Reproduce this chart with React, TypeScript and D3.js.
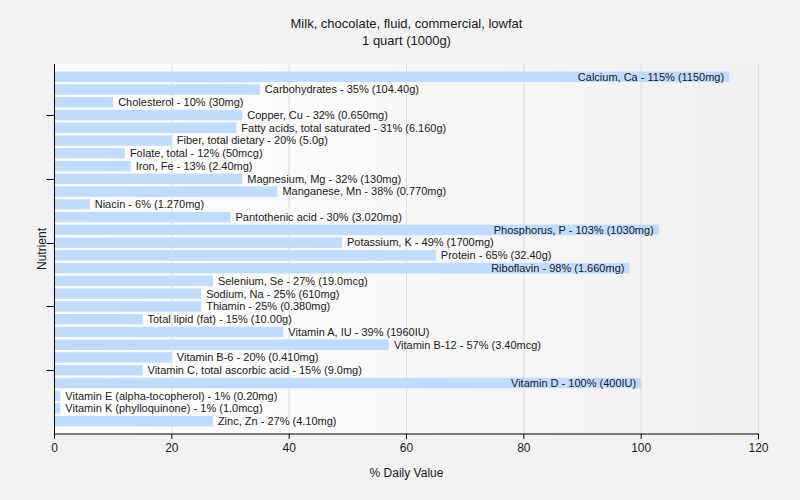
import React from "react";
import * as d3 from "d3";

const title1 = "Milk, chocolate, fluid, commercial, lowfat";
const title2 = "1 quart (1000g)";

const nutrients = [
  "Calcium, Ca", "Carbohydrates", "Cholesterol", "Copper, Cu", "Fatty acids, total saturated",
  "Fiber, total dietary", "Folate, total", "Iron, Fe", "Magnesium, Mg", "Manganese, Mn",
  "Niacin", "Pantothenic acid", "Phosphorus, P", "Potassium, K", "Protein", "Riboflavin",
  "Selenium, Se", "Sodium, Na", "Thiamin", "Total lipid (fat)", "Vitamin A, IU",
  "Vitamin B-12", "Vitamin B-6", "Vitamin C, total ascorbic acid", "Vitamin D",
  "Vitamin E (alpha-tocopherol)", "Vitamin K (phylloquinone)", "Zinc, Zn",
];
const percents = [115, 35, 10, 32, 31, 20, 12, 13, 32, 38, 6, 30, 103, 49, 65, 98, 27, 25, 25, 15, 39, 57, 20, 15, 100, 1, 1, 27];
const amounts = [
  "1150mg", "104.40g", "30mg", "0.650mg", "6.160g", "5.0g", "50mcg", "2.40mg", "130mg", "0.770mg",
  "1.270mg", "3.020mg", "1030mg", "1700mg", "32.40g", "1.660mg", "19.0mcg", "610mg", "0.380mg",
  "10.00g", "1960IU", "3.40mcg", "0.410mg", "9.0mg", "400IU", "0.20mg", "1.0mcg", "4.10mg",
];
const xTicks = [0, 20, 40, 60, 80, 100, 120];
const yTickPositions = [4, 9, 14, 19, 24];

const W = 800;
const H = 500;
const left = 54.5;
const right = 758.5;
const top = 64;
const bottom = 434;
const labelFont = "11px 'Liberation Sans', Arial, sans-serif";

let ctx: CanvasRenderingContext2D | null = null;
function textWidth(s: string): number {
  if (!ctx) {
    const c = document.createElement("canvas");
    ctx = c.getContext("2d");
  }
  if (!ctx) return s.length * 5.5;
  ctx.font = labelFont;
  return ctx.measureText(s).width;
}

export default function App() {
  const x = d3.scaleLinear().domain([0, 120]).range([left, right]);
  const y = d3.scaleLinear().domain([0, nutrients.length + 1]).range([top, bottom]);
  const band = y(1) - y(0);
  const barH = band * 0.82;

  return (
    <svg width={W} height={H} style={{ position: "absolute", left: 0, top: 0, fontFamily: "'Liberation Sans', Arial, sans-serif" }}>
      <defs>
        <linearGradient id="plotbg" x1="0" x2="1" y1="0" y2="0">
          <stop offset="0" stopColor="#ffffff" />
          <stop offset="1" stopColor="#f0f0f0" />
        </linearGradient>
      </defs>
      <rect x={0} y={0} width={W} height={H} fill="#f2f2f2" />
      <rect x={left} y={top} width={right - left} height={bottom - top} fill="url(#plotbg)" />
      {xTicks.filter((t) => t > 0).map((t) => (
        <line key={"g" + t} x1={x(t)} x2={x(t)} y1={top} y2={bottom} stroke="#dcdcdc" strokeWidth={1} />
      ))}
      {nutrients.map((n, i) => {
        const v = percents[i];
        const cy = y(i + 1);
        const label = `${n} - ${v}% (${amounts[i]})`;
        const tw = textWidth(label);
        const end = x(v);
        const outside = end + 5 + tw <= right;
        return (
          <g key={n}>
            <rect x={x(0)} y={cy - barH / 2} width={end - x(0)} height={barH} fill="#bfdbff" />
            <text
              x={outside ? end + 5 : end - 5}
              y={cy}
              dy="0.35em"
              textAnchor={outside ? "start" : "end"}
              fontSize={11}
              fill="#1a1a1a"
            >
              {label}
            </text>
          </g>
        );
      })}
      <line x1={left} x2={left} y1={top} y2={bottom + 0.5} stroke="#000" strokeWidth={1} />
      <line x1={left} x2={right} y1={bottom} y2={bottom} stroke="#000" strokeWidth={1} />
      {yTickPositions.map((p) => (
        <line key={"yt" + p} x1={left - 8} x2={left} y1={Math.round(y(p)) + 0.5} y2={Math.round(y(p)) + 0.5} stroke="#000" />
      ))}
      {xTicks.map((t) => (
        <g key={"xt" + t}>
          <line x1={x(t)} x2={x(t)} y1={bottom} y2={bottom + 5} stroke="#000" />
          <text x={x(t)} y={bottom + 18} textAnchor="middle" fontSize={12} fill="#1a1a1a">{t}</text>
        </g>
      ))}
      <text x={(left + right) / 2} y={477} textAnchor="middle" fontSize={12} fill="#1a1a1a">% Daily Value</text>
      <text transform={`translate(46, ${(top + bottom) / 2}) rotate(-90)`} textAnchor="middle" fontSize={12} fill="#1a1a1a">Nutrient</text>
      <text x={(left + right) / 2} y={28} textAnchor="middle" fontSize={13} fill="#1a1a1a">{title1}</text>
      <text x={(left + right) / 2} y={45} textAnchor="middle" fontSize={13} fill="#1a1a1a">{title2}</text>
    </svg>
  );
}
